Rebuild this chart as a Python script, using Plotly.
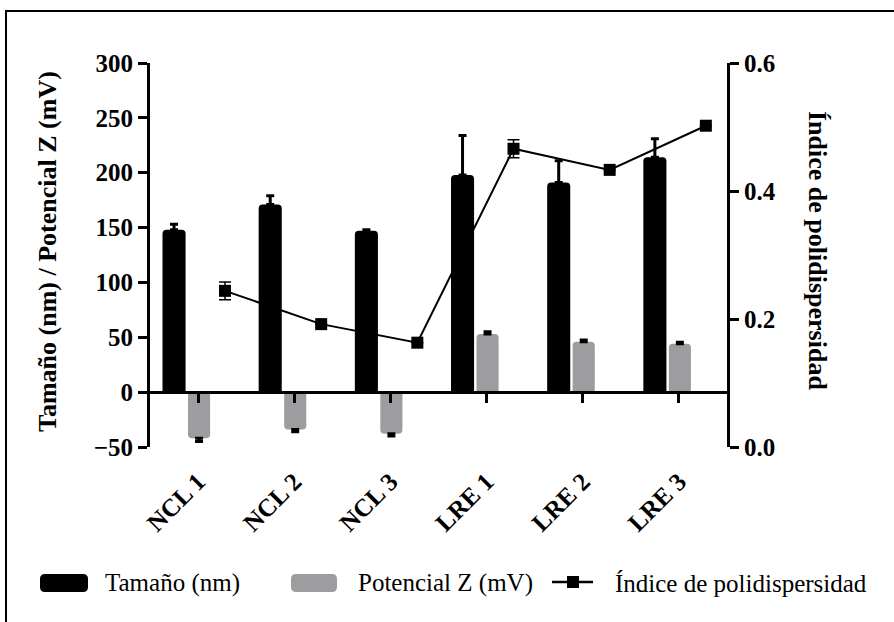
import plotly.graph_objects as go

categories = ["NCL 1", "NCL 2", "NCL 3", "LRE 1", "LRE 2", "LRE 3"]
tamano = [148, 171, 147, 198, 191, 214]
tamano_err = [5, 8, 1, 36, 20, 17]
potencial = [-42, -34, -38, 53, 46, 44]
potencial_err = [3, 2, 2, 2, 1.5, 1.5]
pdi = [0.244, 0.192, 0.163, 0.466, 0.433, 0.502]
pdi_err = [0.014, 0.0, 0.0, 0.014, 0.0, 0.0]

idx = list(range(len(categories)))
SERIF = "Liberation Serif"

fig = go.Figure()

fig.add_trace(go.Bar(
    x=[i - 0.25 for i in idx], y=tamano, width=0.24,
    marker=dict(color="black", line=dict(width=0), cornerradius=4),
    error_y=dict(type="data", symmetric=False, array=tamano_err,
                 arrayminus=[0] * len(idx), color="black", thickness=3, width=4),
    name="Tamaño (nm)", showlegend=False))

fig.add_trace(go.Bar(
    x=[i + 0.01 for i in idx], y=potencial, width=0.23,
    marker=dict(color="#9d9d9f", line=dict(width=0), cornerradius=4),
    error_y=dict(type="data", symmetric=False,
                 array=[e if v > 0 else 0 for v, e in zip(potencial, potencial_err)],
                 arrayminus=[e if v < 0 else 0 for v, e in zip(potencial, potencial_err)],
                 color="black", thickness=3, width=4),
    name="Potencial Z (mV)", showlegend=False))

fig.add_trace(go.Scatter(
    x=[i + 0.28 for i in idx], y=pdi, yaxis="y2", mode="lines+markers",
    line=dict(color="black", width=2),
    marker=dict(symbol="square", size=12, color="black"),
    error_y=dict(type="data", array=pdi_err, color="black", thickness=1.5, width=6),
    name="Índice de polidispersidad", showlegend=False))

# dummy trace for the label axis
fig.add_trace(go.Scatter(x=[None], y=[None], xaxis="x2", showlegend=False, hoverinfo="skip"))

fig.update_layout(
    width=894, height=622,
    margin=dict(l=150, r=167, t=63, b=175),
    plot_bgcolor="white", paper_bgcolor="white",
    barmode="overlay",
    xaxis=dict(range=[-0.5, 5.5], anchor="free", position=50 / 350,
               showline=True, linecolor="black", linewidth=3,
               ticks="outside", ticklen=9, tickwidth=3, tickcolor="black",
               tickvals=idx, showticklabels=False, showgrid=False, zeroline=False),
    xaxis2=dict(range=[-0.5, 5.5], overlaying="x", anchor="y", side="bottom",
                showline=False, ticks="", tickvals=idx, ticktext=categories,
                tickangle=-45, ticklabelstandoff=14,
                tickfont=dict(family=SERIF, size=25, color="black", weight="bold"),
                showgrid=False, zeroline=False),
    yaxis=dict(range=[-50, 300], tickvals=[-50, 0, 50, 100, 150, 200, 250, 300],
               showline=True, linecolor="black", linewidth=3,
               ticks="outside", ticklen=9, tickwidth=3, tickcolor="black",
               tickfont=dict(family=SERIF, size=25, color="black", weight="bold"),
               showgrid=False, zeroline=False),
    yaxis2=dict(range=[0, 0.6], tickvals=[0, 0.2, 0.4, 0.6], tickformat=".1f",
                overlaying="y", side="right", anchor="x",
                showline=True, linecolor="black", linewidth=3,
                ticks="outside", ticklen=9, tickwidth=3, tickcolor="black",
                tickfont=dict(family=SERIF, size=25, color="black", weight="bold"),
                showgrid=False, zeroline=False),
)


def px(xp):
    return (xp - 150) / 577


def py(yp):
    return (447 - yp) / 384


def rounded_rect(x0, x1, y0, y1, r):
    rx, ry = r / 577, r / 384
    X0, X1, Y0, Y1 = px(x0), px(x1), py(y1), py(y0)
    return (f"M {X0+rx},{Y0} L {X1-rx},{Y0} Q {X1},{Y0} {X1},{Y0+ry} "
            f"L {X1},{Y1-ry} Q {X1},{Y1} {X1-rx},{Y1} L {X0+rx},{Y1} "
            f"Q {X0},{Y1} {X0},{Y1-ry} L {X0},{Y0+ry} Q {X0},{Y0} {X0+rx},{Y0} Z")


# axis titles
fig.add_annotation(text="Tamaño (nm) / Potencial Z (mV)", xref="paper", yref="paper",
                   x=px(47), y=py(252), textangle=-90, showarrow=False,
                   xanchor="center", yanchor="middle",
                   font=dict(family=SERIF, size=26, color="black", weight="bold"))
fig.add_annotation(text="Índice de polidispersidad", xref="paper", yref="paper",
                   x=px(818), y=py(250), textangle=90, showarrow=False,
                   xanchor="center", yanchor="middle",
                   font=dict(family=SERIF, size=26, color="black", weight="bold"))

# frame
fig.add_shape(type="rect", xref="paper", yref="paper",
              x0=px(6), x1=px(900), y0=py(640), y1=py(11),
              line=dict(color="black", width=2), fillcolor="rgba(0,0,0,0)", layer="below")

# manual legend
leg_y = 583
fig.add_shape(type="path", xref="paper", yref="paper",
              path=rounded_rect(40, 88, leg_y - 9, leg_y + 9, 5),
              fillcolor="black", line=dict(width=0))
fig.add_annotation(text="Tamaño (nm)", xref="paper", yref="paper", x=px(103), y=py(leg_y),
                   xanchor="left", yanchor="middle", showarrow=False,
                   font=dict(family=SERIF, size=25, color="black"))
fig.add_shape(type="path", xref="paper", yref="paper",
              path=rounded_rect(291, 337, leg_y - 9, leg_y + 9, 5),
              fillcolor="#9d9d9f", line=dict(width=0))
fig.add_annotation(text="Potencial Z (mV)", xref="paper", yref="paper", x=px(356), y=py(leg_y),
                   xanchor="left", yanchor="middle", showarrow=False,
                   font=dict(family=SERIF, size=25, color="black"))
fig.add_shape(type="line", xref="paper", yref="paper", x0=px(552), x1=px(593),
              y0=py(leg_y - 1), y1=py(leg_y - 1), line=dict(color="black", width=2.5))
fig.add_shape(type="rect", xref="paper", yref="paper", x0=px(567), x1=px(579),
              y0=py(leg_y + 5), y1=py(leg_y - 7), fillcolor="black", line=dict(width=0))
fig.add_annotation(text="Índice de polidispersidad", xref="paper", yref="paper", x=px(613), y=py(leg_y),
                   xanchor="left", yanchor="middle", showarrow=False,
                   font=dict(family=SERIF, size=25, color="black"))

fig.write_html("out.html")
